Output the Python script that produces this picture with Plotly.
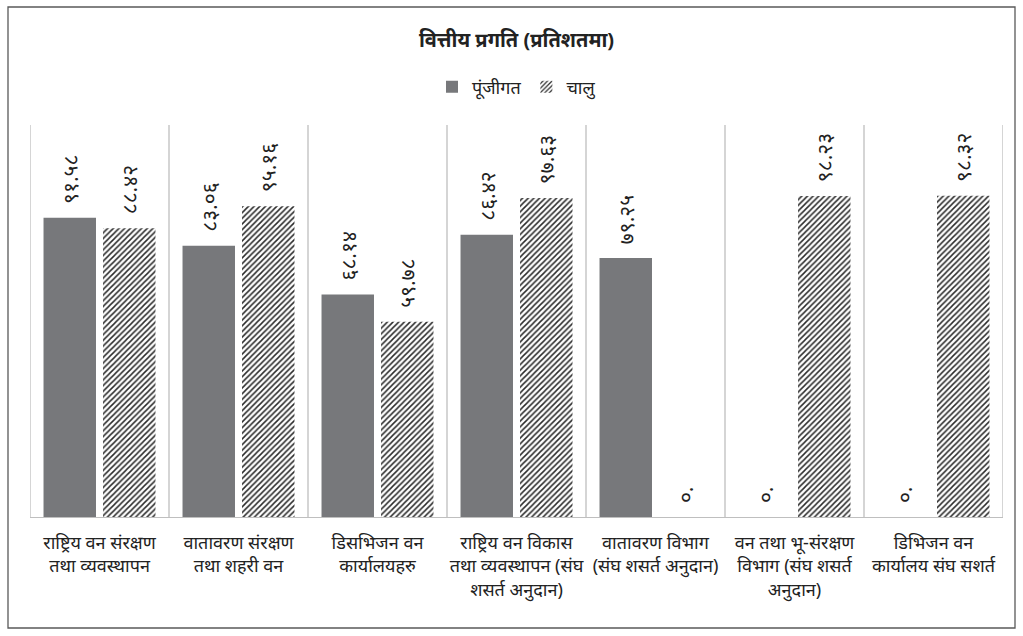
import plotly.graph_objects as go

categories = [
    "राष्ट्रिय वन संरक्षण<br>तथा व्यवस्थापन",
    "वातावरण संरक्षण<br>तथा शहरी वन",
    "डिसभिजन वन<br>कार्यालयहरु",
    "राष्ट्रिय वन विकास<br>तथा व्यवस्थापन (संघ<br>शसर्त अनुदान)",
    "वातावरण विभाग<br>(संघ शसर्त अनुदान)",
    "वन तथा भू-संरक्षण<br>विभाग (संघ शसर्त<br>अनुदान)",
    "डिभिजन वन<br>कार्यालय संघ सशर्त",
]
capital = [91.58, 83.06, 68.14, 86.42, 79.25, 0, 0]
current = [88.42, 95.16, 59.78, 97.63, 0, 98.23, 98.32]

DEV = str.maketrans("0123456789", "०१२३४५६७८९")


def dev_label(v):
    if v == 0:
        return "\u00a0\u00a0०."
    return "\u00a0\u00a0" + f"{v:.2f}".translate(DEV)


FONT = "Noto Sans, Lato, sans-serif"

fig = go.Figure()
fig.add_trace(go.Bar(
    x=categories, y=capital, name="पूंजीगत",
    marker=dict(color="#77787b", line=dict(width=0)),
    text=[dev_label(v) for v in capital], textposition="outside",
    textangle=-90, cliponaxis=False, constraintext="none",
    textfont=dict(size=21, color="#222222", family=FONT),
))
fig.add_trace(go.Bar(
    x=categories, y=current, name="चालु",
    marker=dict(color="white", line=dict(width=0),
                pattern=dict(shape="/", size=4, solidity=0.38,
                             fgcolor="#2b2b2b", bgcolor="white",
                             fillmode="replace")),
    text=[dev_label(v) for v in current], textposition="outside",
    textangle=-90, cliponaxis=False, constraintext="none",
    textfont=dict(size=21, color="#222222", family=FONT),
))

shapes = []
for i in range(len(categories) + 1):
    shapes.append(dict(type="line", xref="x", yref="paper",
                       x0=i - 0.5, x1=i - 0.5, y0=0, y1=1,
                       line=dict(color="#bfbfbf", width=1.3)))
# outer chart border
shapes.append(dict(type="rect", xref="paper", yref="paper",
                   x0=(8 - 30) / 973, x1=(1015 - 30) / 973,
                   y0=(517 - 628) / 392, y1=(517 - 7) / 392,
                   line=dict(color="#595959", width=1.3),
                   fillcolor="rgba(0,0,0,0)", layer="below"))

fig.update_layout(
    width=1023, height=636,
    margin=dict(l=30, r=20, t=125, b=119, autoexpand=False),
    paper_bgcolor="white", plot_bgcolor="white",
    barmode="group", bargap=0.144, bargroupgap=0.118,
    title=dict(text="<b>वित्तीय प्रगति (प्रतिशतमा)</b>", x=0.5, xref="paper",
               y=1 - 40 / 636, yanchor="middle",
               font=dict(size=20, color="#222222", family=FONT)),
    legend=dict(orientation="h", x=0.5, xanchor="center",
                y=(517 - 87) / 392, yref="paper", yanchor="middle",
                font=dict(size=18, color="#222222", family=FONT),
                itemwidth=30, traceorder="normal"),
    xaxis=dict(showline=True, linecolor="#bfbfbf", linewidth=1.3,
               ticks="", showgrid=False, range=[-0.5, 6.5],
               ticklabelstandoff=9, automargin=False,
               tickfont=dict(size=18, color="#222222", family=FONT)),
    yaxis=dict(range=[0, 120], visible=False, showgrid=False,
               zeroline=False),
    shapes=shapes,
    showlegend=True,
)

fig.write_html("out.html",
               config={"displayModeBar": False},
               post_script="document.body.style.margin='0';"
                           "document.body.style.overflow='hidden';")
